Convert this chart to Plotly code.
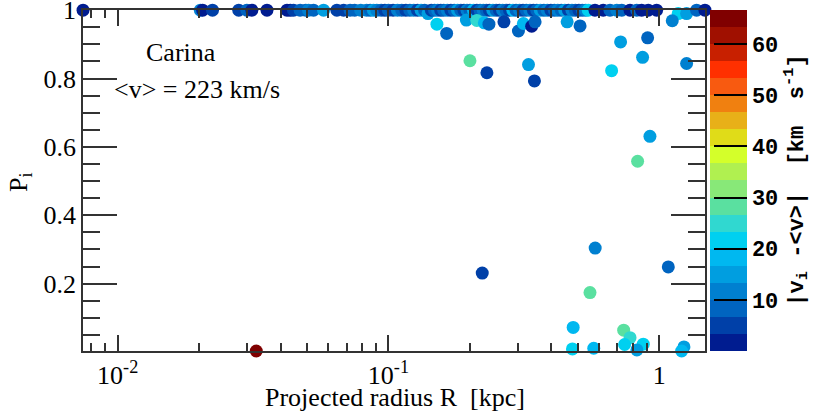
import plotly.graph_objects as go

# ---- data: projected radius R [kpc], membership probability P_i, |v_i - <v>| [km/s]
# members on the P=1 ridge (drawn first)
ridge_R = [0.00745, 0.0202, 0.0206, 0.0224, 0.0280, 0.0300, 0.0313, 0.0356, 0.0422, 0.0434,
           0.0446, 0.0472, 0.0495, 0.0507, 0.0529, 0.0576, 0.0645, 0.0683, 0.0722, 0.0750,
           0.0790, 0.0830, 0.0856, 0.0880, 0.0906, 0.094, 0.097, 0.100, 0.104, 0.108,
           0.112, 0.116, 0.120, 0.124, 0.128, 0.132, 0.136, 0.140, 0.144, 0.148,
           0.152, 0.156, 0.160, 0.165, 0.170, 0.175, 0.180, 0.185, 0.190, 0.195,
           0.200, 0.206, 0.212, 0.218, 0.224, 0.230, 0.236, 0.243, 0.250, 0.257,
           0.264, 0.272, 0.280, 0.288, 0.296, 0.305, 0.314, 0.323, 0.333, 0.343,
           0.353, 0.364, 0.375, 0.386, 0.398, 0.410, 0.422, 0.435, 0.448, 0.462,
           0.476, 0.490, 0.505, 0.520, 0.535, 0.547, 0.579, 0.621, 0.658, 0.697,
           0.727, 0.780, 0.826, 0.861, 0.911, 0.978, 1.175, 1.262, 1.374, 1.475]
ridge_P = [1.0] * 37 + [0.99] + [1.0] * 58 + [0.99, 0.99, 1.0, 1.0]
ridge_dv = [1.5, 12, 1.5, 5, 5, 8.3, 1.5, 1.5, 1.5, 1.5,
            5, 8.3, 8.3, 12, 8.3, 15, 5, 5, 8.3, 8.3,
            12, 12, 8.3, 15, 12, 8.3, 5, 8.3, 5, 12,
            8.3, 5, 8.3, 12, 5, 15, 8.3, 15, 5, 8.3,
            12, 5, 8.3, 12, 5, 8.3, 15, 8.3, 5, 12,
            8.3, 18.3, 5, 8.3, 12, 8.3, 5, 15, 8.3, 5,
            12, 8.3, 5, 18.3, 8.3, 12, 5, 8.3, 12, 5,
            8.3, 15, 8.3, 12, 5, 8.3, 12, 8.3, 15, 5,
            12, 8.3, 5, 8.3, 12, 21.7, 1.5, 1.5, 8.3, 12,
            8.3, 1.5, 8.3, 1.5, 1.5, 1.5, 21.7, 15, 8.3, 1.5]

# scattered stars below the ridge
scat_R = [0.151, 0.164, 0.194, 0.212, 0.226, 0.235, 0.267, 0.302, 0.315, 0.338,
          0.348, 0.200, 0.231, 0.329, 0.346, 0.457, 0.510, 0.720, 0.906, 0.868,
          0.667, 1.117, 1.262, 0.924, 0.832, 0.580, 0.222, 1.08, 0.555, 0.481,
          0.478, 0.573, 0.739, 0.780, 0.745, 0.873, 0.827, 1.234, 1.21, 0.0325]
scat_P = [0.959, 0.932, 0.971, 0.970, 0.963, 0.959, 0.966, 0.939, 0.961, 0.953,
          0.966, 0.852, 0.817, 0.841, 0.793, 0.966, 0.954, 0.907, 0.919, 0.862,
          0.823, 0.969, 0.844, 0.631, 0.558, 0.304, 0.231, 0.249, 0.174, 0.072,
          0.009, 0.011, 0.064, 0.042, 0.022, 0.023, 0.006, 0.015, 0.003, 0.003]
scat_dv = [21.7, 8.3, 15, 25, 18.3, 8.3, 5, 8.3, 18.3, 1.5,
           8.3, 28.3, 5, 15, 5, 15, 8.3, 15, 8.3, 15,
           21.7, 12, 12, 15, 28.3, 12, 5, 8.3, 28.3, 18.3,
           21.7, 18.3, 28.3, 25, 21.7, 21.7, 15, 15, 18.3, 65]

band_colors = ["#001c90", "#0040a8", "#0064c0", "#0080d0", "#009ee0", "#00b8f0", "#00d0f0",
               "#30d8d0", "#5ae0a0", "#88e878", "#b0f050", "#d4ff2a", "#e0dc18", "#e8b018",
               "#f08010", "#f85a10", "#ff3000", "#c82000", "#a01000", "#800000"]
cb_ticks = [10, 20, 30, 40, 50, 60]
x_tickvals = [0.01, 0.1, 1]
x_ticktext = ["10<sup>-2</sup>", "10<sup>-1</sup>", "1"]
y_tickvals = [0.2, 0.4, 0.6, 0.8, 1.0]
y_ticktext = ["0.2", "0.4", "0.6", "0.8", "1"]

CMAX = 66.67
n = len(band_colors)
cscale = []
for i, c in enumerate(band_colors):
    cscale.append([i / n, c])
    cscale.append([(i + 1) / n, c])

serif = "Liberation Serif"
mono = "Liberation Mono"

all_R = ridge_R + scat_R
all_P = ridge_P + scat_P
all_dv = ridge_dv + scat_dv

fig = go.Figure()
fig.add_trace(go.Scatter(
    x=all_R, y=all_P, mode="markers", cliponaxis=False,
    marker=dict(size=13, color=all_dv, colorscale=cscale, cmin=0, cmax=CMAX,
                line=dict(width=0), opacity=1,
                colorbar=dict(
                    x=1.008, xanchor="left", y=0.5, yanchor="middle", len=1.0,
                    thickness=37, thicknessmode="pixels", outlinewidth=0, xpad=0, ypad=0,
                    tickvals=cb_ticks, ticks="inside", ticklen=33, tickwidth=1.5,
                    tickcolor="black",
                    tickfont=dict(family=mono, size=22, color="black", weight="bold"),
                    title=dict(text="|v<sub>i</sub> -&lt;v&gt;|  [km  s<sup>-1</sup>]",
                               side="right",
                               font=dict(family=mono, size=22, color="black", weight="bold")),
                )),
    showlegend=False, hoverinfo="skip"))

axis_common = dict(showline=True, linecolor="#333", linewidth=1.5, mirror="ticks",
                   ticks="inside", tickcolor="#333", tickwidth=1.5, showgrid=False,
                   zeroline=False, automargin=False, ticklabeloverflow="allow",
                   tickfont=dict(family=serif, size=26, color="black"))

fig.update_xaxes(type="log", range=[-2.128, 0.169], tickvals=x_tickvals, ticktext=x_ticktext,
                 ticklen=16,
                 minor=dict(ticks="inside", ticklen=8, dtick="D1", tickcolor="#333",
                            tickwidth=1.5, showgrid=False),
                 **axis_common)
fig.update_yaxes(range=[0.003, 1.0005], tickvals=y_tickvals, ticktext=y_ticktext,
                 ticklen=34,
                 minor=dict(ticks="inside", ticklen=17, dtick=0.05, tick0=0,
                            tickcolor="#333", tickwidth=1.5, showgrid=False),
                 **axis_common)

W, H = 830, 413
L, R_, T, B = 83, 125, 10, 62
pw, ph = W - L - R_, H - T - B


def px2paper(x, y):
    return (x - L) / pw, (H - B - y) / ph


texts = [("Carina", 181, 52, 0), ("&lt;v&gt; = 223 km/s", 197, 89, 0),
         ("Projected radius R  [kpc]", 395, 398, 0), ("P<sub>i</sub>", 20, 182, -90)]
for t, xp, yp, ang in texts:
    ax_, ay_ = px2paper(xp, yp)
    fig.add_annotation(text=t, x=ax_, y=ay_, xref="paper", yref="paper",
                       xanchor="center", yanchor="middle", textangle=ang,
                       showarrow=False, font=dict(family=serif, size=26, color="black"))

fig.update_layout(width=W, height=H, margin=dict(l=L, r=R_, t=T, b=B, autoexpand=False),
                  paper_bgcolor="white", plot_bgcolor="white")
fig.write_html("out.html", config={"displayModeBar": False},
               post_script="document.body.style.margin='0px';")
